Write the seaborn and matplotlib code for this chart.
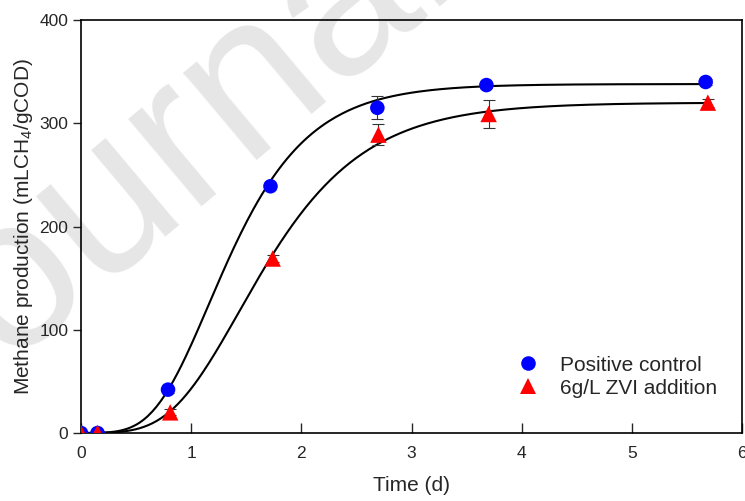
import numpy as np
import pandas as pd
import seaborn as sns
import matplotlib.pyplot as plt

time_pc = [0, 0.15, 0.79, 1.72, 2.69, 3.68, 5.67]
ch4_pc = [0, 0, 42, 239, 315, 337, 340]
err_pc = [2, 2, 3, 3, 11, 3, 3]

time_zvi = [0, 0.15, 0.81, 1.74, 2.70, 3.70, 5.69]
ch4_zvi = [0, 0, 20, 169, 289, 309, 320]
err_zvi = [2, 2, 3, 3, 10, 14, 4]

# modified Gompertz fit parameters: P (max), Rm (max rate), lambda (lag)
gomp_pc = (338, 249, 0.66)
gomp_zvi = (320, 188, 0.81)

labels = ['Positive control', '6g/L ZVI addition']


def gompertz(t, P, Rm, lam):
    return P * np.exp(-np.exp(Rm * np.e / P * (lam - t) + 1))


sns.set_theme(style='ticks')
plt.rcParams['font.family'] = ['Liberation Sans', 'DejaVu Sans']
plt.rcParams['mathtext.fontset'] = 'custom'
plt.rcParams['mathtext.rm'] = 'Liberation Sans'
plt.rcParams['mathtext.it'] = 'Liberation Sans:italic'

fig = plt.figure(figsize=(7.45, 5.01), dpi=100)
ax = fig.add_axes([0.1087, 0.1357, 0.8873, 0.8243])

# watermark behind everything
fig.text(-0.1, 0.125, 'Journal Pre-proof', fontsize=155, color='#e6e6e6',
         rotation=40, rotation_mode='anchor', ha='left', va='baseline', zorder=-5)
ax.set_facecolor('none')

pts = pd.DataFrame({
    'time': time_pc + time_zvi,
    'ch4': ch4_pc + ch4_zvi,
    'group': [labels[0]] * len(time_pc) + [labels[1]] * len(time_zvi),
})

tt = np.linspace(0, 5.7, 300)
fits = pd.DataFrame({
    'time': np.concatenate([tt, tt]),
    'ch4': np.concatenate([gompertz(tt, *gomp_pc), gompertz(tt, *gomp_zvi)]),
    'group': [labels[0]] * len(tt) + [labels[1]] * len(tt),
})

sns.lineplot(data=fits, x='time', y='ch4', units='group', estimator=None,
             color='black', lw=1.5, ax=ax, zorder=2)

ax.errorbar(time_pc, ch4_pc, yerr=err_pc, fmt='none', ecolor='#333333',
            elinewidth=0.8, capsize=4, capthick=0.8, zorder=3)
ax.errorbar(time_zvi, ch4_zvi, yerr=err_zvi, fmt='none', ecolor='#333333',
            elinewidth=0.8, capsize=4, capthick=0.8, zorder=3)

sns.scatterplot(data=pts, x='time', y='ch4', hue='group', style='group', size='group',
                palette={labels[0]: '#0000ff', labels[1]: '#ff0000'},
                markers={labels[0]: 'o', labels[1]: '^'},
                sizes={labels[0]: 110, labels[1]: 140},
                linewidth=0, ax=ax, zorder=4)

ax.set_xlim(0, 6)
ax.set_ylim(0, 400)
ax.set_xticks(range(0, 7))
ax.set_yticks(range(0, 401, 100))
ax.tick_params(axis='x', direction='in', length=7, width=1, labelsize=12.5, pad=9)
ax.tick_params(axis='y', direction='out', length=6, width=1, labelsize=12.5, pad=3)
for s in ax.spines.values():
    s.set_linewidth(1.2)
    s.set_color('black')

ax.set_xlabel('Time (d)', fontsize=15, labelpad=11)
ax.set_ylabel('Methane production (mLCH$_4$/gCOD)', fontsize=15, labelpad=3)

leg = ax.legend(loc='lower right', bbox_to_anchor=(0.99, 0.04), frameon=False,
                fontsize=15, handletextpad=0.5, labelspacing=0.2)

fig.savefig('out.png', dpi=100)
